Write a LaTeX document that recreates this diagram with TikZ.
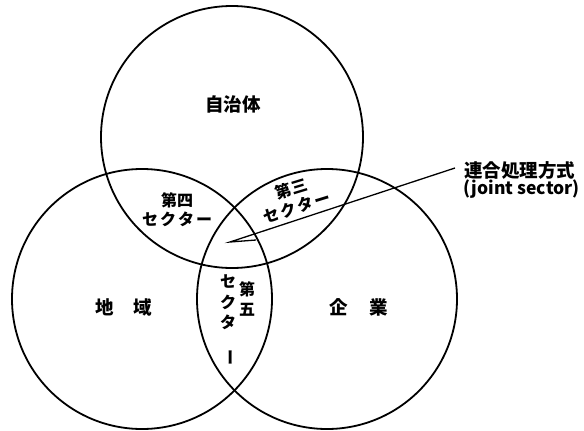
\documentclass[tikz,border=0pt]{standalone}
\usepackage{fontspec}
\setmainfont{Noto Sans CJK JP}
\begin{document}
\begin{tikzpicture}[x=1pt,y=-1pt,
  ring/.style={line width=1.8pt},
  lbl/.style={font=\fontsize{18.5}{20}\selectfont\bfseries, inner sep=0pt},
  sec/.style={font=\fontsize{16}{19}\selectfont\bfseries, inner sep=0pt, align=center},
  vsec/.style={font=\fontsize{16}{20.5}\selectfont\bfseries, inner sep=0pt, align=center},
  ptr/.style={line width=1.3pt, line join=miter},
]
\useasboundingbox (0,0) rectangle (584,431);
% circles
\draw[ring] (232,137) circle[radius=131pt];
\draw[ring] (142,299) circle[radius=130pt];
\draw[ring] (327,299) circle[radius=130pt];
% main labels
\node[lbl] (jichi) at (233,104) {自治体};
\node[lbl] (chiiki) at (124,307) {地\hspace{20pt}域};
\node[lbl] (kigyo) at (359,307) {企\hspace{22pt}業};
% sectors
\node[sec] (dai4) at (177,210) {第四\\セ\kern2pt ク\kern2pt タ\kern2pt ー};
\node[sec, rotate=17] (dai3) at (294,198) {第三\\セ\kern2pt ク\kern2pt タ\kern2pt ー};
\node[vsec] (dai5) at (247,299) {第\\五};
\node[vsec] (sekuta5) at (228,320) {セ\\ク\\タ\\\rotatebox{-90}{ー}};
% joint sector label
\node[font=\fontsize{18.5}{20}\selectfont\bfseries, inner sep=0pt, anchor=west] (renketsu) at (464,170) {連合処理方式};
\node[font=\fontsize{17.5}{20}\selectfont\bfseries, inner sep=0pt, anchor=west] (joint) at (463,189) {(joint sector)};
% arrow (open harpoon)
\coordinate (tip) at (230,242);
\coordinate (barb) at (256,240);
\draw[ptr] ([xshift=-9pt,yshift=2pt]renketsu.west) -- (tip) -- (barb);
\end{tikzpicture}
\end{document}
